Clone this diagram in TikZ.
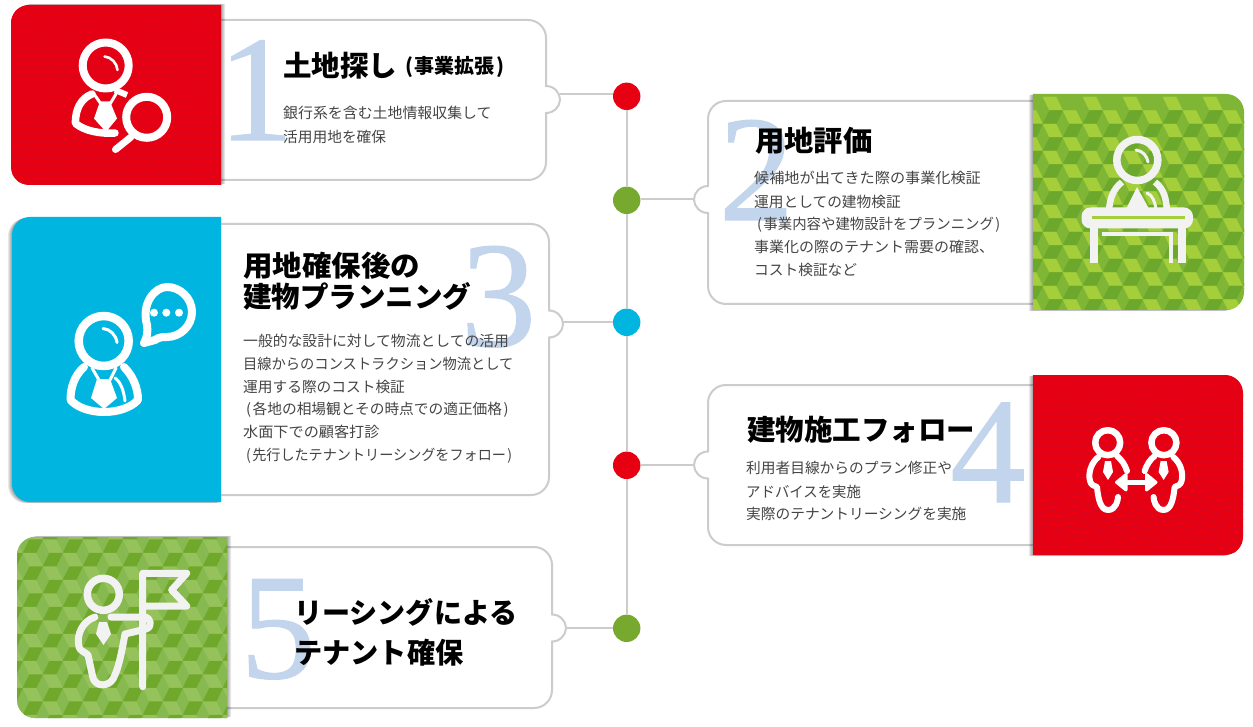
\documentclass[tikz,border=0pt]{standalone}
\usepackage{fontspec}
\usepackage{graphicx}
\setmainfont{Noto Sans CJK JP}
\newfontfamily\jp{Noto Sans CJK JP}
\newfontfamily\dg[FakeBold=0.7]{Liberation Serif}
\definecolor{linegray}{HTML}{CCCCCC}
\definecolor{bigdigit}{HTML}{C2D5EC}
\definecolor{redbase}{HTML}{E60012}
\definecolor{redwave}{HTML}{D80620}
\definecolor{bluebase}{HTML}{00B6E0}
\definecolor{dotgreen}{HTML}{76A92D}
\definecolor{gAmid}{HTML}{80B636}
\definecolor{gAlight}{HTML}{A4CF3A}
\definecolor{gAdark}{HTML}{6CA82B}
\definecolor{gBmid}{HTML}{86BA50}
\definecolor{gBlight}{HTML}{96C25C}
\definecolor{gBdark}{HTML}{6FA82A}
\definecolor{bodytext}{HTML}{444444}
\definecolor{iconwhite}{HTML}{F2F2F2}
\tikzset{
 titletext/.style={anchor=base west,inner sep=0pt,text=black,font=\jp\bfseries\fontsize{28.5}{30}\selectfont},
 subtext/.style={anchor=base west,inner sep=0pt,text=black,font=\jp\bfseries\fontsize{20}{22}\selectfont},
 bodyline/.style={anchor=base west,inner sep=0pt,text=bodytext,font=\jp\fontsize{14.7}{16}\selectfont},
 digit/.style={anchor=base west,inner sep=0pt,text=bigdigit,font=\dg\fontsize{151}{151}\selectfont},
 dotnode/.style={circle,minimum size=27.4pt,inner sep=0pt},
 outline/.style={draw=linegray,line width=2pt,fill=white},
 conn/.style={draw=linegray,line width=2pt},
 ico/.style={draw=white,line cap=round,line join=round},
 icf/.style={fill=white},
 icog/.style={draw=iconwhite,line cap=round,line join=round},
 icfg/.style={fill=iconwhite},
}
\newcommand{\sx}[2]{\scalebox{#1}[1]{#2}}
\newcommand{\lp}{\hspace{3pt}(\hspace{1.5pt}}
\newcommand{\rp}{\hspace{1.5pt})\hspace{3pt}}
\newcommand{\pathL}[4]{(#3,#2) -- ({#1+18},#2) .. controls ({#1+8},#2) and (#1,{#2+8}) .. (#1,{#2+18}) -- (#1,{#4-18}) .. controls (#1,{#4-8}) and ({#1+8},#4) .. ({#1+18},#4) -- (#3,#4) -- cycle}
\newcommand{\pathR}[4]{(#1,#2) -- ({#3-18},#2) .. controls ({#3-8},#2) and (#3,{#2+8}) .. (#3,{#2+18}) -- (#3,{#4-18}) .. controls (#3,{#4-8}) and ({#3-8},#4) .. ({#3-18},#4) -- (#1,#4) -- cycle}
\newcommand{\boxTabR}[5]{\path[outline] (#1,#2) -- ({#3-18},#2) .. controls ({#3-8},#2) and (#3,{#2+8}) .. (#3,{#2+18}) -- (#3,{#5-13.5}) .. controls ({#3+8},{#5-13.5}) and ({#3+14},{#5-7}) .. ({#3+14},#5) .. controls ({#3+14},{#5+7}) and ({#3+8},{#5+13.5}) .. (#3,{#5+13.5}) -- (#3,{#4-18}) .. controls (#3,{#4-8}) and ({#3-8},#4) .. ({#3-18},#4) -- (#1,#4);}
\newcommand{\boxTabL}[5]{\path[outline] (#3,#2) -- ({#1+18},#2) .. controls ({#1+8},#2) and (#1,{#2+8}) .. (#1,{#2+18}) -- (#1,{#5-13.5}) .. controls ({#1-8},{#5-13.5}) and ({#1-14},{#5-7}) .. ({#1-14},#5) .. controls ({#1-14},{#5+7}) and ({#1-8},{#5+13.5}) .. (#1,{#5+13.5}) -- (#1,{#4-18}) .. controls (#1,{#4-8}) and ({#1+8},#4) .. ({#1+18},#4) -- (#3,#4);}
\newcommand{\shadowpath}[3]{\foreach \s in {1,2,3,4}{\fill[black,opacity=.09,shift={({#1*\s*1pt},{#2*\s*1pt})}] #3;}}
\newcommand{\cubes}[6]{\foreach \r in {0,...,#5}{\foreach \c in {-1,...,#6}{
 \pgfmathsetmacro{\X}{#1+40*\c+20*mod(\r,2)}\pgfmathsetmacro{\Y}{#2+13.5*\r}
 \fill[#3,draw=#3,line width=.15pt] (\X,\Y) -- ++(13.33,0) -- ++(-6.67,-13.5) -- ++(-13.33,0) -- cycle;
 \fill[#4,draw=#4,line width=.15pt] (\X,\Y) -- ++(13.33,0) -- ++(-6.67,13.5) -- ++(-13.33,0) -- cycle;
}}}
\newcommand{\waves}[4]{\foreach \w in {0,...,24}{\pgfmathsetmacro{\Yb}{#2+\w*8.2}
 \draw[redwave,line width=1.3pt] plot[domain=0:#3,samples=#4,smooth] ({#1+\x},{\Yb+1.2*sin(\x*16.4+\w*40)});}}
\newcommand{\biz}{%
 \path[ico,line width=6.5pt] (1107.7,442.7) circle (12.5);
 \path[ico,line width=6pt] (1098.3,457) .. controls (1091,463) and (1088,473) .. (1090,481) .. controls (1091,485) and (1094,486) .. (1097,487) .. controls (1098,497) and (1100,510) .. (1108,510) .. controls (1116,510) and (1118,500) .. (1118,497);
 \path[ico,line width=6pt] (1117,456) .. controls (1122,460) and (1125,465) .. (1127,471);
 \fill[icf] (1105,461) -- (1111,461) -- (1113,472) -- (1108,480) -- (1103,472) -- cycle;
}
\begin{document}
\begin{tikzpicture}[x=1pt,y=-1pt]
\useasboundingbox (0,0) rectangle (1253,727);
\fill[white] (0,0) rectangle (1253,727);
% outlines
\boxTabR{215}{20}{546}{180}{99.5}
\boxTabL{708}{101}{1040}{304}{199.5}
\boxTabR{215}{224}{549}{495}{324}
\boxTabL{708}{385}{1040}{545}{465}
\boxTabR{222}{547}{552}{708}{628}
% connector nodes
\node[dotnode,fill=redbase] (d1) at (626.7,96.3) {};
\node[dotnode,fill=dotgreen] (d2) at (626.7,200.3) {};
\node[dotnode,fill=bluebase] (d3) at (626.7,322.3) {};
\node[dotnode,fill=redbase] (d4) at (626.7,465.3) {};
\node[dotnode,fill=dotgreen] (d5) at (626.7,628.3) {};
\coordinate (t1) at (560,94.5);
\coordinate (t2) at (693.5,199.5);
\coordinate (t3) at (563,322);
\coordinate (t4) at (694,465);
\coordinate (t5) at (566,628);
\draw[conn] (d1) -- (d2);
\draw[conn] (d2) -- (d3);
\draw[conn] (d3) -- (d4);
\draw[conn] (d4) -- (d5);
\draw[conn] (t1) -- (t1 -| d1.west);
\draw[conn] (t2) -- (t2 -| d2.east);
\draw[conn] (t3) -- (t3 -| d3.west);
\draw[conn] (t4) -- (t4 -| d4.east);
\draw[conn] (t5) -- (t5 -| d5.west);
% big digits
\node[digit] (n1) at (218,140) {1};
\node[digit] (n2) at (718.5,220) {2};
\node[digit] (n3) at (460.5,346) {3};
\node[digit] (n4) at (950,502) {4};
\node[digit] (n5) at (240,678) {5};
% texts
\node[titletext] at (283,76.5) {土地探し};
\node[subtext] at (402,73.5) {\lp 事業拡張\rp};
\node[bodyline] at (283,118.6) {\sx{1.015}{銀行系を含む土地情報収集して}};
\node[bodyline] at (283,142.2) {活用用地を確保};
\node[titletext] at (755,151.5) {\sx{1.03}{用地評価}};
\node[bodyline] at (754,183.6) {\sx{1.03}{候補地が出てきた際の事業化検証}};
\node[bodyline] at (754,207.2) {運用としての建物検証};
\node[bodyline] at (754,229.6) {\sx{.98}{\lp 事業内容や建物設計をプランニング\rp}};
\node[bodyline] at (754,252.6) {\sx{1.02}{事業化の際のテナント需要の確認、}};
\node[bodyline] at (754,275.6) {コスト検証など};
\node[titletext] at (243,276.5) {\sx{1.035}{用地確保後の}};
\node[titletext] at (243,308) {建物プランニング};
\node[bodyline] at (243,346.1) {\sx{1.008}{一般的な設計に対して物流としての活用}};
\node[bodyline] at (243,369.1) {\sx{.97}{目線からのコンストラクション物流として}};
\node[bodyline] at (243,392.1) {運用する際のコスト検証};
\node[bodyline] at (243,414.6) {\lp 各地の相場観とその時点での適正価格\rp};
\node[bodyline] at (243,437.6) {\sx{1.03}{水面下での顧客打診}};
\node[bodyline] at (243,460.6) {\sx{.96}{\lp 先行したテナントリーシングをフォロー\rp}};
\node[titletext] at (747,440) {建物施工フォロー};
\node[bodyline] at (746,473.6) {利用者目線からのプラン修正や};
\node[bodyline] at (746,497.2) {\sx{.98}{アドバイスを実施}};
\node[bodyline] at (746,519.6) {実際のテナントリーシングを実施};
\node[titletext] at (294,623) {\sx{.985}{リーシングによる}};
\node[titletext] at (294,663) {\sx{.99}{テナント確保}};
% panel 1 red
\shadowpath{1}{0.3}{\pathL{11}{5}{221}{185}}
\fill[redbase] \pathL{11}{5}{221}{185};
\begin{scope}\clip \pathL{11}{5}{221}{185}; \waves{11}{2}{210}{45}\end{scope}
\path[ico,line width=8pt] (105.7,65.5) circle (23);
\path[ico,line width=2.6pt] (104.5,56.5) .. controls (111,57) and (117,63) .. (117.5,70);
\path[ico,line width=7.5pt] (92,94) .. controls (82,98) and (75,108) .. (75.5,123.5) .. controls (85,131) and (100,134) .. (115,133);
\path[ico,line width=6pt,line cap=butt] (115,90) -- (127,95);
\draw[ico,line width=3pt] (94,94) -- (101,104);
\draw[ico,line width=3pt] (116,94) -- (110,104);
\fill[icf] (100,101.5) -- (110,101.5) -- (117,118.5) -- (106,132) -- (94,118.5) -- cycle;
\path[ico,line width=8pt] (146.7,117.3) circle (20.5);
\path[ico,line width=7pt] (131,137) -- (115.5,149.5);
% panel 3 blue
\shadowpath{-1}{-0.3}{\pathL{12}{217}{221}{502}}
\fill[bluebase] \pathL{12}{217}{221}{502};
\path[ico,line width=8.5pt] (103.7,341) circle (25);
\path[ico,line width=3pt] (103,328.5) .. controls (110,329) and (116,335) .. (117,342.5);
\path[ico,line width=8pt] (84,367) .. controls (74,376) and (70.5,388) .. (70.5,400) .. controls (85,416) and (123,416) .. (138,400) .. controls (138,388) and (133,376) .. (124,367);
\draw[ico,line width=3pt] (92,368) -- (99,380);
\draw[ico,line width=3pt] (116,368) -- (110,380);
\fill[icf] (97,379) -- (110,379) -- (117,398) -- (104,409) -- (91,398) -- cycle;
\path[ico,line width=3pt] (115,378) .. controls (121,382) and (124,392) .. (125,401);
\path[ico,line width=8pt] (147,325) .. controls (141,303) and (155,287) .. (167,287) .. controls (180,287) and (192,298) .. (192,312) .. controls (192,326) and (180,337) .. (167,337) .. controls (163,337) and (159,337) .. (155,340) -- (144,343) .. controls (147,338) and (148,332) .. (147,325) -- cycle;
\fill[icf] (154,312.7) circle (4) (166.3,312.7) circle (4) (179,312.7) circle (4);
% panel 5 green
\shadowpath{1}{0.3}{\pathL{17}{537}{227}{718}}
\fill[gBmid] \pathL{17}{537}{227}{718};
\begin{scope}\clip \pathL{17}{537}{227}{718}; \cubes{49.5}{526}{gBlight}{gBdark}{15}{6}\end{scope}
\path[icog,line width=7.5pt] (103.3,594.3) circle (16);
\path[icog,line width=7pt] (142.7,686.7) -- (142.7,573.3) -- (186.7,573.3) -- (171.7,590) -- (186.7,606) -- (142.7,606);
\path[icog,line width=7pt] (111,617) -- (144,617) .. controls (151,617) and (153,627) .. (146,629) -- (125,634) .. controls (122,650) and (119,668) .. (113,679) .. controls (108,687) and (96,687) .. (93,678) -- (88,655) .. controls (85,652) and (80,651) .. (79,647) .. controls (76,634) and (83,621) .. (95,617);
\fill[icfg] (99,622) -- (107,622) -- (111,634) -- (103.5,645) -- (96,634) -- cycle;
% panel 2 green
\shadowpath{-1}{-0.3}{\pathR{1033}{94}{1244}{310}}
\fill[gAmid] \pathR{1033}{94}{1244}{310};
\begin{scope}\clip \pathR{1033}{94}{1244}{310}; \cubes{1049.5}{110.5}{gAlight}{gAdark}{15}{6}\end{scope}
\path[icog,line width=7.5pt] (1137.3,160) circle (20.5);
\path[icog,line width=3pt] (1136,150) .. controls (1143,151) and (1147,156) .. (1148,162);
\path[icog,line width=6.5pt,line cap=butt] (1122,182) .. controls (1112,190) and (1110,200) .. (1109,210);
\path[icog,line width=6.5pt,line cap=butt] (1155,182) .. controls (1165,190) and (1166,200) .. (1167,210);
\fill[icfg] (1126,209) -- (1137,187) -- (1149,209) -- cycle;
\path[icog,line width=3pt] (1147,193) .. controls (1153,195) and (1155,203) .. (1156,209);
\fill[icfg,rounded corners=9pt] (1081.5,207.5) rectangle (1193,228.5);
\fill[gAlight] (1092,216) rectangle (1185,219);
\fill[icfg] (1089.5,228) rectangle (1097.5,263.5);
\fill[icfg] (1177.5,228) rectangle (1185.5,263.5);
\fill[icfg] (1101.5,232) rectangle (1173,236);
\fill[icfg] (1169,236) rectangle (1173,263.5);
% panel 4 red
\shadowpath{-1}{-0.3}{\pathR{1033}{375}{1243}{555}}
\fill[redbase] \pathR{1033}{375}{1243}{555};
\begin{scope}\clip \pathR{1033}{375}{1243}{555}; \waves{1033}{372}{210}{45}\end{scope}
\biz
\begin{scope}[xshift=2271.6pt,xscale=-1]\biz\end{scope}
\draw[ico,line width=5.5pt,line cap=butt] (1122,482.3) -- (1151,482.3);
\path[ico,line width=3pt,fill=white] (1116.5,482.3) -- (1126,474.5) -- (1126,490) -- cycle;
\path[ico,line width=3pt,fill=white] (1156,482.3) -- (1146.5,474.5) -- (1146.5,490) -- cycle;
\end{tikzpicture}
\end{document}
